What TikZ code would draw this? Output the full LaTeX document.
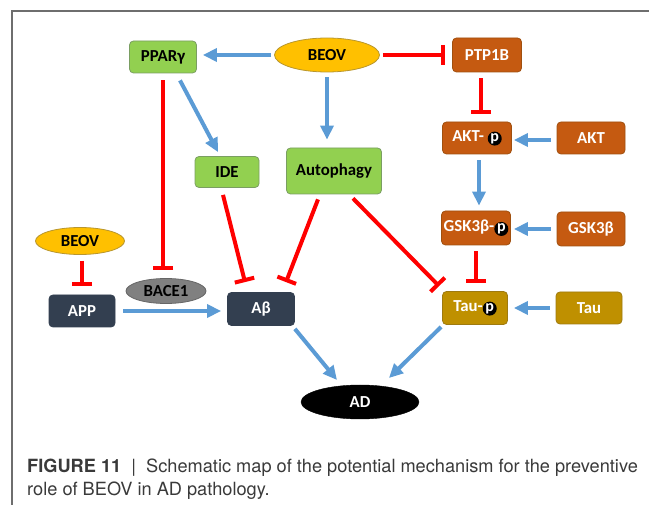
\documentclass[tikz,border=0pt]{standalone}
\usepackage{fontspec}
\setmainfont{Carlito}
\newfontfamily\capfont{TeX Gyre Heros}
\usetikzlibrary{arrows.meta,shapes.geometric,calc}
\definecolor{grn}{HTML}{92D050}
\definecolor{grnb}{HTML}{7A9E62}
\definecolor{yel}{HTML}{FFC000}
\definecolor{yelb}{HTML}{B8962E}
\definecolor{org}{HTML}{C55A11}
\definecolor{orgb}{HTML}{A0500F}
\definecolor{gold}{HTML}{BF9000}
\definecolor{goldb}{HTML}{9E7A10}
\definecolor{slate}{HTML}{333F50}
\definecolor{grey}{HTML}{808080}
\definecolor{blu}{HTML}{5B9BD5}
\definecolor{rd}{HTML}{FF0000}
\definecolor{frm}{HTML}{6E6E6E}
\definecolor{captxt}{HTML}{3A3A3A}
\newcommand\pcirc{\tikz[baseline=(pp.base)]\node[circle,fill=black,text=white,inner sep=0pt,minimum size=14pt,font=\bfseries\fontsize{16}{16}\selectfont](pp){p};}
\begin{document}
\begin{tikzpicture}[x=1pt,y=-1pt,
  lbl/.style={font=\bfseries\fontsize{16.8}{17}\selectfont,inner sep=0pt},
  gbox/.style={lbl,rectangle,rounded corners=4pt,fill=grn,draw=grnb,line width=0.8pt,text=black},
  obox/.style={lbl,rectangle,rounded corners=4pt,fill=org,draw=orgb,line width=0.8pt,text=white},
  tbox/.style={lbl,rectangle,rounded corners=4pt,fill=gold,draw=goldb,line width=0.8pt,text=white},
  sbox/.style={lbl,rectangle,rounded corners=4pt,fill=slate,draw=slate,line width=0.8pt,text=white},
  yell/.style={lbl,ellipse,fill=yel,draw=yelb,line width=0.8pt,text=black},
  gell/.style={lbl,ellipse,fill=grey,draw=grey!80!black,line width=0.8pt,text=black},
  bell/.style={lbl,ellipse,fill=black,draw=black,text=white},
  act/.style={draw=blu,line width=4pt,-{Triangle[length=14pt,width=13pt]}},
  inh/.style={draw=rd,line width=4pt,-{Bar[width=20pt]}},
  captext/.style={anchor=base west,inner sep=0pt,text=captxt,font=\capfont\fontsize{18.2}{23}\selectfont}]
\useasboundingbox (0,0) rectangle (649,505);
\draw[frm,line width=1.5pt] (12,505) -- (12,11) -- (649,11);

\node[gbox,minimum width=67pt,minimum height=32pt] (PPAR) at (163,57) {PPARγ};
\node[yell,minimum width=105pt,minimum height=34pt] (BEOV1) at (327,55) {BEOV};
\node[obox,minimum width=69pt,minimum height=34pt] (PTP) at (487,55) {PTP1B};
\node[gbox,minimum width=64pt,minimum height=31pt] (IDE) at (227,172) {IDE};
\node[gbox,minimum width=95pt,minimum height=46pt] (AUTO) at (334,171) {Autophagy};
\node[obox,minimum width=69pt,minimum height=32pt] (AKTP) at (477,138) {AKT- \pcirc};
\node[obox,minimum width=68pt,minimum height=32pt] (AKT) at (591,138) {AKT};
\node[obox,minimum width=69pt,minimum height=34pt] (GSKP) at (476,228) {GSK3β-\pcirc};
\node[obox,minimum width=68pt,minimum height=34pt] (GSK) at (591,229) {GSK3β};
\node[yell,minimum width=89pt,minimum height=27pt] (BEOV2) at (80,241) {BEOV};
\node[gell,minimum width=80pt,minimum height=25pt] (BACE) at (166,291) {BACE1};
\node[sbox,minimum width=66pt,minimum height=32pt] (APP) at (82,311) {APP};
\node[sbox,minimum width=67pt,minimum height=33pt] (AB) at (261,309) {Aβ};
\node[tbox,minimum width=65pt,minimum height=33pt] (TAUP) at (475,308) {Tau-\pcirc};
\node[tbox,minimum width=66pt,minimum height=32pt] (TAU) at (589,308) {Tau};
\node[bell,minimum width=118pt,minimum height=34pt] (AD) at (360,402) {AD};

\draw[act,shorten <=3pt,shorten >=6pt] (BEOV1.west) -- (BEOV1.west -| PPAR.east);
\draw[inh,shorten <=3pt,shorten >=7pt] (BEOV1.east) -- (BEOV1.east -| PTP.west);
\draw[act,shorten <=5pt,shorten >=8pt] (BEOV1.south) -- (BEOV1.south |- AUTO.north);
\draw[act] ($(PPAR.south)+(17,7)$) -- ($(IDE.north)+(-9,-4)$);
\draw[inh] ($(PPAR.south)+(0,7)$) -- ($(PPAR.south |- BACE.north)+(0,-8)$);
\draw[inh] ($(IDE.south)+(-4,7)$) -- ($(AB.north)+(-16,-10)$);
\draw[inh] ($(AUTO.south)+(-16,5)$) -- ($(AB.north)+(25,-10)$);
\draw[inh] ($(AUTO.south)+(19,4)$) -- ($(TAUP.north west)+(-3,-5)$);
\draw[inh] ($(PTP.south)+(-6,6)$) -- ($(AKTP.north)+(4,-8)$);
\draw[act,shorten <=6pt,shorten >=2pt] ($(AKT.west)+(0,2)$) -- ($(AKTP.east)+(0,2)$);
\draw[act] ($(AKTP.south)+(2,6)$) -- ($(GSKP.north)+(3,-5)$);
\draw[act,shorten <=6pt,shorten >=3pt] (GSK.west) -- (GSK.west -| GSKP.east);
\draw[inh] ($(GSKP.south)+(0,6)$) -- ($(TAUP.north)+(1,-8)$);
\draw[act,shorten <=6pt,shorten >=6pt] (TAU.west) -- (TAU.west -| TAUP.east);
\draw[act,shorten <=8pt,shorten >=6pt] (APP.east) -- (APP.east -| AB.west);
\draw[inh] ($(BEOV2.south)+(2,6)$) -- ($(APP.north)+(0,-9)$);
\draw[act] ($(AB.south east)+(0,3)$) -- ($(AD.center)+(-23,-22)$);
\draw[act] ($(TAUP.south west)+(-1,2)$) -- ($(AD.center)+(29,-24)$);

\node[captext] (CAP1) at (27,473) {\textbf{FIGURE 11}\ \ |\ \ Schematic map of the potential mechanism for the preventive};
\node[captext] (CAP2) at (27,496) {role of BEOV in AD pathology.};
\end{tikzpicture}
\end{document}
